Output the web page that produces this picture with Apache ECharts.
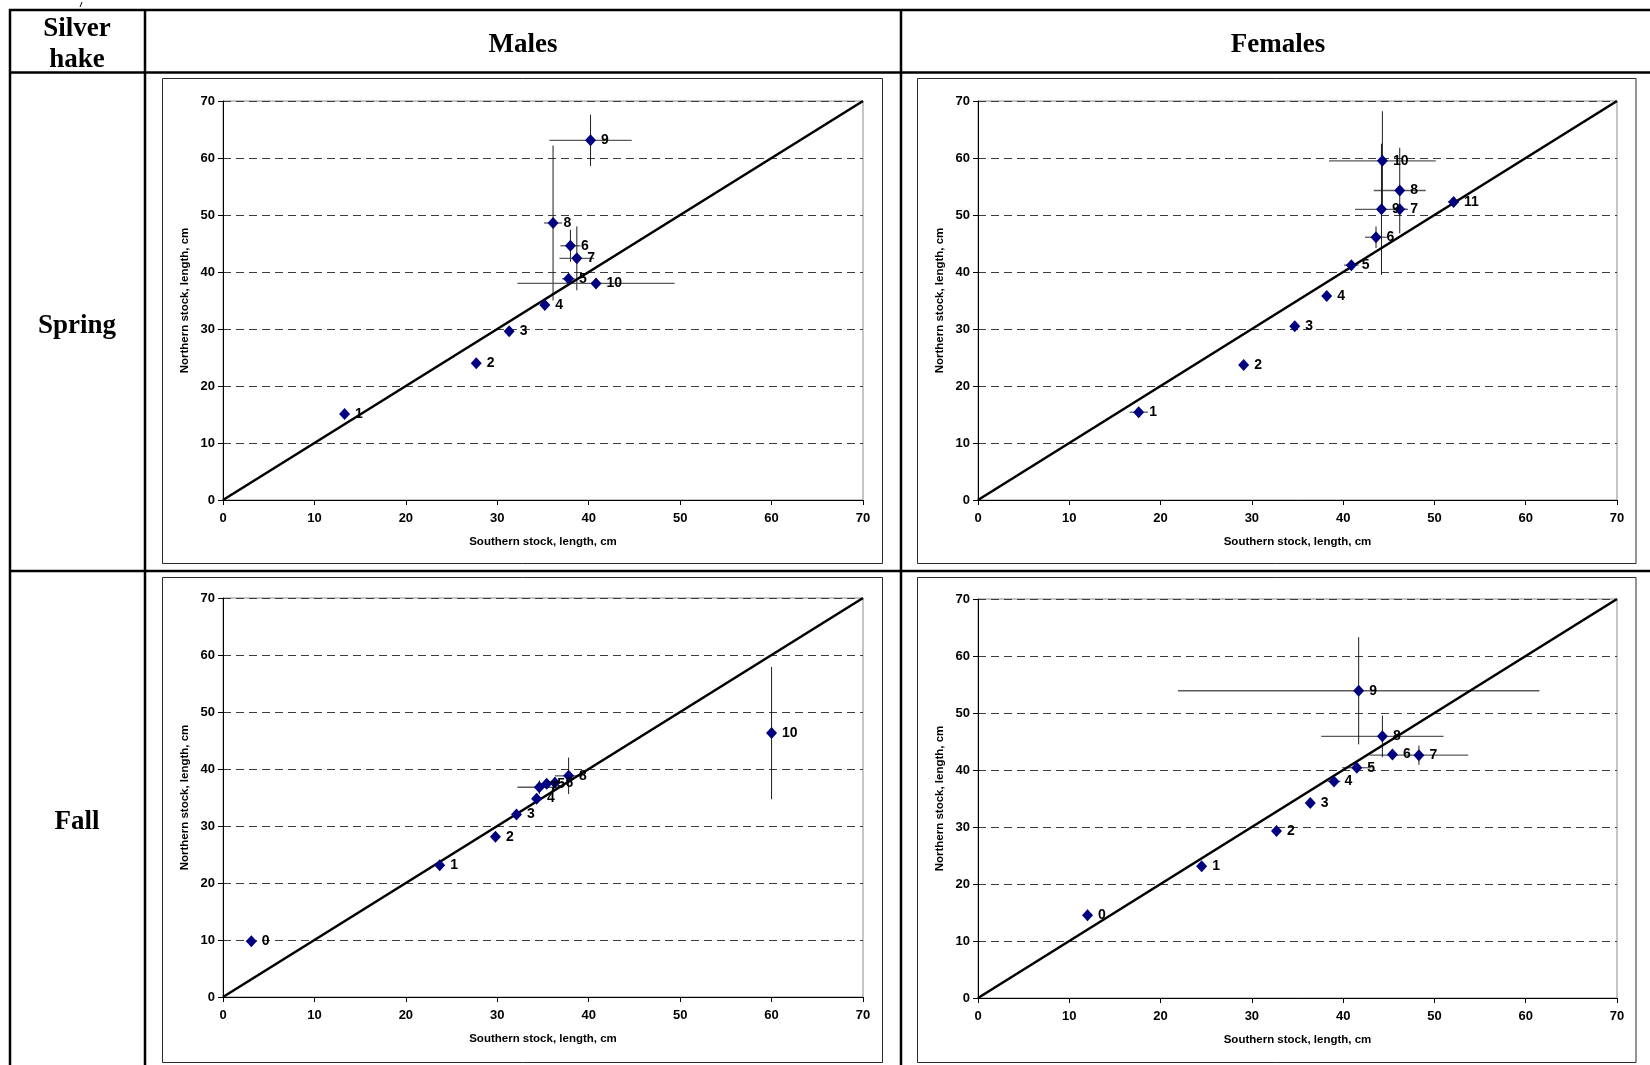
<!DOCTYPE html>
<html>
<head>
<meta charset="utf-8">
<title>Silver hake – length at age, northern vs southern stock</title>
<script src="https://cdn.jsdelivr.net/npm/echarts@6/dist/echarts.min.js"></script>
<style>
  html, body { margin: 0; padding: 0; background: #ffffff; }
  #chart { width: 1650px; height: 1065px; }
</style>
</head>
<body>
<div id="chart"></div>
<script>
// Axis ticks shared by every panel (cm)
const axisTicks = [0, 10, 20, 30, 40, 50, 60, 70];
// 1:1 reference line end points (cm)
const diagonal = [0, 70];

// Males, spring: age, southern stock mean length, northern stock mean length, error half-widths
const msAge = [1, 2, 3, 4, 5, 6, 7, 8, 9, 10];
const msSouth = [13.3, 27.7, 31.3, 35.2, 37.8, 38.0, 38.7, 36.1, 40.2, 40.8];
const msNorth = [15.1, 24.0, 29.6, 34.2, 38.8, 44.6, 42.4, 48.6, 63.1, 38.0];
const msSouthErr = [0, 0, 0, 0, 0.7, 1.1, 1.9, 1.0, 4.5, 8.6];
const msNorthErr = [0, 0, 0, 0, 1.0, 2.8, 5.6, 13.6, 4.5, 0];

// Females, spring
const fsAge = [1, 2, 3, 4, 5, 6, 7, 8, 9, 10, 11];
const fsSouth = [17.6, 29.1, 34.7, 38.2, 40.9, 43.6, 46.2, 46.2, 44.2, 44.3, 52.1];
const fsNorth = [15.4, 23.7, 30.5, 35.8, 41.2, 46.1, 51.0, 54.3, 51.0, 59.5, 52.3];
const fsSouthErr = [1.0, 0, 0, 0, 0.8, 1.2, 0.8, 2.85, 2.9, 5.85, 0.6];
const fsNorthErr = [0, 0, 0, 0, 0.5, 1.9, 0, 7.5, 11.5, 8.7, 0];

// Males, fall
const mfAge = [0, 1, 2, 3, 4, 5, 6, 7, 8, 10];
const mfSouth = [3.1, 23.7, 29.8, 32.1, 34.3, 35.4, 36.3, 34.6, 37.8, 60.0];
const mfNorth = [9.8, 23.1, 28.1, 32.0, 34.8, 37.4, 37.6, 36.8, 38.8, 46.3];
const mfSouthErr = [0.6, 0.3, 0, 0, 0, 0.8, 0.8, 2.4, 1.5, 0];
const mfNorthErr = [0.8, 0.5, 0, 0, 0, 0, 1.0, 1.2, 3.2, 11.6];

// Females, fall
const ffAge = [0, 1, 2, 3, 4, 5, 6, 7, 8, 9];
const ffSouth = [12.0, 24.5, 32.7, 36.4, 39.0, 41.5, 45.4, 48.3, 44.3, 41.7];
const ffNorth = [14.5, 23.1, 29.3, 34.2, 38.0, 40.4, 42.7, 42.6, 45.9, 53.9];
const ffSouthErr = [0, 0, 0, 0, 0.7, 1.6, 0, 5.4, 6.7, 19.8];
const ffNorthErr = [1.0, 0, 0.5, 0, 0, 0, 0.8, 1.7, 3.65, 9.4];

const panels = [
  { age: msAge, south: msSouth, north: msNorth, ex: msSouthErr, ey: msNorthErr,
    grid: { left: 223, top: 101, width: 640, height: 399 } },
  { age: fsAge, south: fsSouth, north: fsNorth, ex: fsSouthErr, ey: fsNorthErr,
    grid: { left: 978, top: 101, width: 639, height: 399 } },
  { age: mfAge, south: mfSouth, north: mfNorth, ex: mfSouthErr, ey: mfNorthErr,
    grid: { left: 223, top: 598, width: 640, height: 399 } },
  { age: ffAge, south: ffSouth, north: ffNorth, ex: ffSouthErr, ey: ffNorthErr,
    grid: { left: 978, top: 599, width: 639, height: 399 } }
];

const SANS = '"Liberation Sans", Arial, sans-serif';
const SERIF = '"Liberation Serif", "Times New Roman", serif';

const grids = [], xAxes = [], yAxes = [], series = [];

panels.forEach((p, i) => {
  grids.push(Object.assign({ show: true, borderColor: '#8c8c8c', borderWidth: 1,
    backgroundColor: 'transparent' }, p.grid));

  xAxes.push({
    gridIndex: i, type: 'value', min: axisTicks[0], max: axisTicks[axisTicks.length - 1],
    interval: axisTicks[1] - axisTicks[0],
    name: 'Southern stock, length, cm', nameLocation: 'middle', nameGap: 36,
    nameTextStyle: { fontFamily: SANS, fontWeight: 'bold', fontSize: 11.5, color: '#000' },
    axisLine: { show: true, onZero: false, lineStyle: { color: '#000', width: 1 } },
    axisTick: { show: true, length: 5, lineStyle: { color: '#000', width: 1 } },
    axisLabel: { fontFamily: SANS, fontWeight: 'bold', fontSize: 13, color: '#000', margin: 12 },
    splitLine: { show: false }
  });

  yAxes.push({
    gridIndex: i, type: 'value', min: axisTicks[0], max: axisTicks[axisTicks.length - 1],
    interval: axisTicks[1] - axisTicks[0],
    name: 'Northern stock, length, cm', nameLocation: 'middle', nameGap: 32,
    nameTextStyle: { fontFamily: SANS, fontWeight: 'bold', fontSize: 11.5, color: '#000' },
    axisLine: { show: true, onZero: false, lineStyle: { color: '#000', width: 1 } },
    axisTick: { show: true, length: 5, lineStyle: { color: '#000', width: 1 } },
    axisLabel: { fontFamily: SANS, fontWeight: 'bold', fontSize: 13, color: '#000', margin: 8 },
    splitLine: { show: true, lineStyle: { color: '#3c3c3c', width: 1, type: [8, 5] } }
  });

  // error bars (south = horizontal, north = vertical)
  series.push({
    type: 'custom', xAxisIndex: i, yAxisIndex: i, z: 1, silent: true,
    data: p.south.map((s, k) => [s, p.north[k], p.ex[k], p.ey[k]]),
    encode: { x: 0, y: 1 },
    renderItem: function (params, api) {
      const x = api.value(0), y = api.value(1), ex = api.value(2), ey = api.value(3);
      const children = [];
      if (ex > 0) {
        const a = api.coord([x - ex, y]), b = api.coord([x + ex, y]);
        children.push({ type: 'line', shape: { x1: a[0], y1: a[1], x2: b[0], y2: b[1] },
          style: { stroke: '#5a5a5a', lineWidth: 1.3 } });
      }
      if (ey > 0) {
        const a = api.coord([x, y - ey]), b = api.coord([x, y + ey]);
        children.push({ type: 'line', shape: { x1: a[0], y1: a[1], x2: b[0], y2: b[1] },
          style: { stroke: '#1e1e1e', lineWidth: 1 } });
      }
      return { type: 'group', children: children };
    }
  });

  // 1:1 line
  series.push({
    type: 'line', xAxisIndex: i, yAxisIndex: i, z: 2, silent: true,
    data: [[diagonal[0], diagonal[0]], [diagonal[1], diagonal[1]]],
    showSymbol: false, symbol: 'none',
    lineStyle: { color: '#000', width: 2.6 }
  });

  // mean length at age
  series.push({
    type: 'scatter', xAxisIndex: i, yAxisIndex: i, z: 3,
    data: p.south.map((s, k) => [s, p.north[k], p.age[k]]),
    symbol: 'diamond', symbolSize: [11, 12],
    itemStyle: { color: '#000080', opacity: 1 },
    label: {
      show: true, position: 'right', distance: 5,
      formatter: (d) => String(d.value[2]),
      fontFamily: SANS, fontWeight: 'bold', fontSize: 14, color: '#000'
    }
  });
});

// table frame and chart boxes
const frame = [
  [9, 10, 1650, 10], [9, 72.5, 1650, 72.5], [9, 571, 1650, 571],
  [10, 9, 10, 1065], [145, 9, 145, 1065], [901, 9, 901, 1065]
].map(([x1, y1, x2, y2]) => ({
  type: 'line', shape: { x1, y1, x2, y2 }, style: { stroke: '#000', lineWidth: 2.5 }, silent: true
}));

const boxes = [
  [162.5, 78.5, 720, 485], [917.5, 78.5, 718.5, 485],
  [162.5, 577.5, 720, 485], [917.5, 577.5, 718.5, 485]
].map(([x, y, width, height]) => ({
  type: 'rect', shape: { x, y, width, height },
  style: { fill: 'none', stroke: '#2a2a2a', lineWidth: 1 }, silent: true
}));

const headText = (text, x, y) => ({
  type: 'text', x, y, silent: true,
  style: { text, fontFamily: SERIF, fontWeight: 'bold', fontSize: 27, lineHeight: 31,
    fill: '#000', align: 'center', verticalAlign: 'middle' }
});

const heads = [
  headText('Silver\nhake', 77, 45),
  headText('Males', 523, 45),
  headText('Females', 1278, 45),
  headText('Spring', 77, 326),
  headText('Fall', 77, 822)
];

const chart = echarts.init(document.getElementById('chart'), null, { renderer: 'canvas' });
chart.setOption({
  animation: false,
  backgroundColor: '#ffffff',
  grid: grids,
  xAxis: xAxes,
  yAxis: yAxes,
  series: series,
  graphic: [
    { type: 'line', shape: { x1: 82, y1: 2, x2: 80, y2: 7 }, style: { stroke: '#000', lineWidth: 1 }, silent: true }
  ].concat(frame, boxes, heads)
});
</script>
</body>
</html>
